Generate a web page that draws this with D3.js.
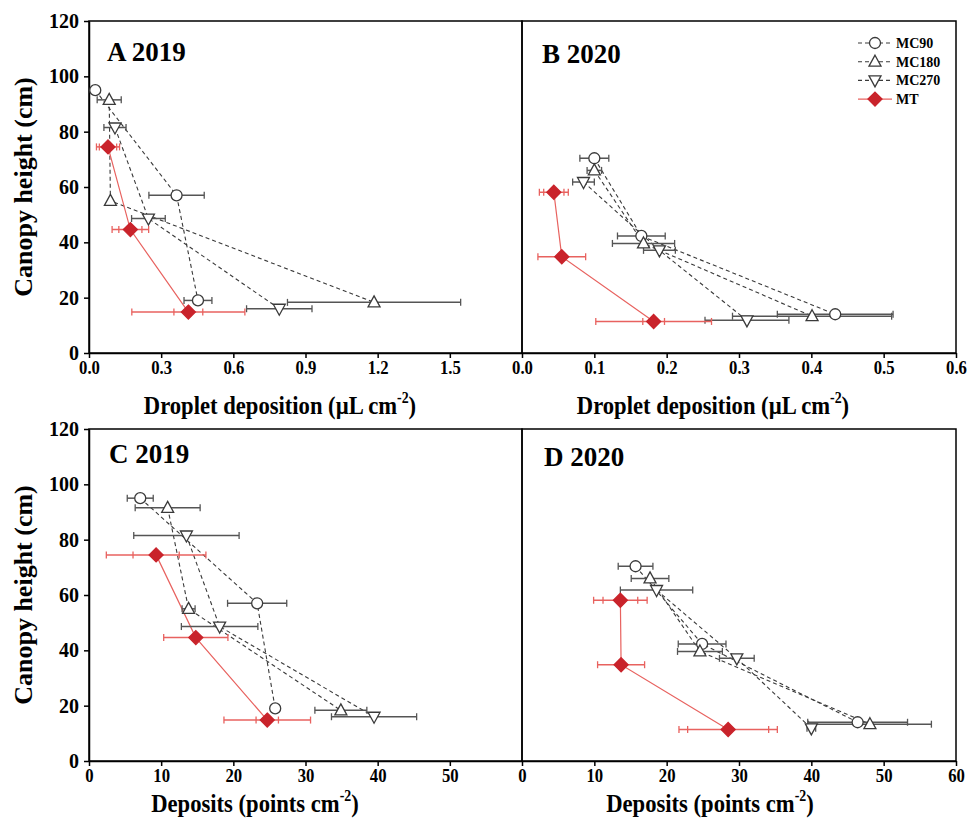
<!DOCTYPE html>
<html>
<head>
<meta charset="utf-8">
<style>
  body { margin: 0; background: #fff; }
  svg text { font-family: "Liberation Serif", "Times New Roman", serif !important; font-weight: bold; fill: #000; }
</style>
<script src="https://d3js.org/d3.v7.min.js"></script>
</head>
<body>
<script>
var seriesNames = ['MC90', 'MC180', 'MC270', 'MT'];

// canopy height (cm) of the three sampling layers, one row per series
var height2019 = [[95, 57, 19], [91.5, 55, 18.3], [81.5, 48.6, 16], [74.5, 44.6, 14.8]];
var height2020 = [[70.4, 42.3, 14], [66, 39.6, 13.3], [61.8, 37.1, 11.8], [58.1, 34.8, 11.4]];

// A: droplet deposition 2019 (uL cm-2)
var dropA    = [[0.026, 0.364, 0.453], [0.084, 0.089, 1.185], [0.108, 0.247, 0.791], [0.079, 0.172, 0.413]];
var dropAErr = [[0.008, 0.115, 0.058], [0.05, 0.005, 0.36], [0.046, 0.07, 0.136], [0.048, 0.076, 0.235]];
// B: droplet deposition 2020
var dropB    = [[0.1, 0.165, 0.433], [0.1, 0.168, 0.401], [0.085, 0.19, 0.311], [0.044, 0.055, 0.182]];
var dropBErr = [[0.02, 0.033, 0.08], [0.01, 0.043, 0.11], [0.015, 0.022, 0.058], [0.02, 0.033, 0.08]];
// C: deposits 2019 (points cm-2)
var depC    = [[7.1, 23.3, 25.8], [10.9, 13.8, 34.9], [13.5, 18.1, 39.5], [9.3, 14.8, 24.7]];
var depCErr = [[1.8, 4.1, 0.4], [4.5, 0.9, 3.6], [7.3, 5.3, 5.9], [6.9, 4.45, 6]];
// D: deposits 2020
var depD    = [[15.7, 24.9, 46.4], [17.7, 24.6, 48.1], [18.6, 29.7, 40], [13.6, 13.7, 28.5]];
var depDErr = [[2.4, 3.3, 6.9], [2.6, 3.1, 8.5], [5, 2.4, 0.6], [3.7, 3.25, 6.8]];
// inner error caps shown on the MT bars
var mtInnerA = [0.036, 0.048, 0.06];
var mtInnerB = [0.014, 0, 0.015];
var mtInnerC = [3.2, 0, 1.55];
var mtInnerD = [2.4, 0, 5.6];

var ticksA = [0, 0.3, 0.6, 0.9, 1.2, 1.5];
var ticksB = [0, 0.1, 0.2, 0.3, 0.4, 0.5, 0.6];
var ticksC = [0, 10, 20, 30, 40, 50];
var ticksD = [0, 10, 20, 30, 40, 50, 60];
var ticksY = [0, 20, 40, 60, 80, 100, 120];

var W = 971, H = 823;
var svg = d3.select('body').append('svg').attr('width', W).attr('height', H);

var panels = [
  {label: 'A 2019', x0: 89, x1: 522, y0: 21, y1: 353, lx: 107, ly: 61, max: 1.8, ticks: ticksA, fmt: d3.format('.1f'),
   vals: dropA, err: dropAErr, inner: mtInnerA, hts: height2019, left: true, title: 'Droplet deposition (µL cm', tx: 280, ty: 414},
  {label: 'B 2020', x0: 522, x1: 956, y0: 21, y1: 353, lx: 542, ly: 63, max: 0.6, ticks: ticksB, fmt: d3.format('.1f'),
   vals: dropB, err: dropBErr, inner: mtInnerB, hts: height2020, left: false, title: 'Droplet deposition (µL cm', tx: 713, ty: 414},
  {label: 'C 2019', x0: 89, x1: 522, y0: 429, y1: 761, lx: 109, ly: 463, max: 60, ticks: ticksC, fmt: d3.format('d'),
   vals: depC, err: depCErr, inner: mtInnerC, hts: height2019, left: true, title: 'Deposits (points cm', tx: 255, ty: 812},
  {label: 'D 2020', x0: 522, x1: 956, y0: 429, y1: 761, lx: 544, ly: 466, max: 60, ticks: ticksD, fmt: d3.format('d'),
   vals: depD, err: depDErr, inner: mtInnerD, hts: height2020, left: false, title: 'Deposits (points cm', tx: 710, ty: 812}
];

var greyCol = '#3a3a3a', barCol = '#555', redLine = '#e8625f', redFill = '#c9232b';
var serif = '"Liberation Serif", "Times New Roman", serif';

function symbolPath(s) {
  if (s === 0) return d3.symbol(d3.symbolCircle, 95)();
  if (s === 1 || s === 2) return 'M0,-6.5L6,4.5L-6,4.5Z';
  return 'M0,-7L7,0L0,7L-7,0Z';
}
function drawSymbol(g, s, x, y) {
  g.append('path')
    .attr('d', symbolPath(s))
    .attr('transform', 'translate(' + x + ',' + y + ')' + (s === 2 ? ' rotate(180)' : ''))
    .attr('fill', s === 3 ? redFill : '#fff')
    .attr('stroke', s === 3 ? redFill : greyCol)
    .attr('stroke-width', 1.3);
}

panels.forEach(function(p) {
  var x = d3.scaleLinear().domain([0, p.max]).range([p.x0, p.x1]);
  var y = d3.scaleLinear().domain([0, 120]).range([p.y1, p.y0]);
  var g = svg.append('g');

  g.append('rect')
    .attr('x', p.x0).attr('y', p.y0)
    .attr('width', p.x1 - p.x0).attr('height', p.y1 - p.y0)
    .attr('fill', 'none').attr('stroke', '#000').attr('stroke-width', 1.5);

  var xa = g.append('g')
    .attr('transform', 'translate(0,' + p.y1 + ')')
    .call(d3.axisBottom(x).tickValues(p.ticks).tickFormat(p.fmt).tickSize(5).tickSizeOuter(0));
  xa.attr('font-family', null);
  xa.select('.domain').attr('stroke-width', 1.5);
  xa.selectAll('.tick line').attr('stroke-width', 1.5);
  xa.selectAll('.tick text')
    .style('font-family', serif).style('font-weight', 'bold').style('font-size', '19px')
    .attr('y', 8).attr('dy', '0.71em')
    .attr('transform', 'scale(0.88,1)');

  if (p.left) {
    var ya = g.append('g')
      .attr('transform', 'translate(' + p.x0 + ',0)')
      .call(d3.axisLeft(y).tickValues(ticksY).tickSize(5).tickSizeOuter(0));
    ya.attr('font-family', null);
    ya.select('.domain').attr('stroke-width', 1.5);
    ya.selectAll('.tick line').attr('stroke-width', 1.5);
    ya.selectAll('.tick text')
      .style('font-family', serif).style('font-weight', 'bold').style('font-size', '20px')
      .attr('x', -10);

    g.append('text')
      .attr('transform', 'translate(23,' + (p.y0 + p.y1) / 2 + ') rotate(-90)')
      .attr('text-anchor', 'middle').attr('dy', '0.35em')
      .attr('font-size', 26)
      .text('Canopy height (cm)');
  }

  var t = g.append('text')
    .attr('transform', 'translate(' + p.tx + ',' + p.ty + ') scale(0.87,1)')
    .attr('text-anchor', 'middle').attr('font-size', 26);
  t.append('tspan').text(p.title);
  t.append('tspan').attr('font-size', 16).attr('dy', -11).text('-2');
  t.append('tspan').attr('dy', 11).text(')');

  g.append('text')
    .attr('x', p.lx).attr('y', p.ly)
    .attr('font-size', 27)
    .text(p.label);

  var line = d3.line()
    .x(function(d) { return x(d.v); })
    .y(function(d) { return y(d.h); });

  var pts = seriesNames.map(function(name, s) {
    return p.hts[s].map(function(h, i) {
      return {h: h, v: p.vals[s][i], e: p.err[s][i], ie: s === 3 ? p.inner[i] : 0};
    });
  });

  pts.forEach(function(d, s) {
    g.append('path')
      .attr('d', line(d))
      .attr('fill', 'none')
      .attr('stroke', s === 3 ? redLine : greyCol)
      .attr('stroke-width', s === 3 ? 1.2 : 1.1)
      .attr('stroke-dasharray', s === 3 ? null : '4,3');
  });

  pts.forEach(function(d, s) {
    var col = s === 3 ? redLine : barCol;
    d.forEach(function(pt) {
      var cy = y(pt.h), xl = x(pt.v - pt.e), xr = x(pt.v + pt.e);
      g.append('line').attr('x1', xl).attr('x2', xr).attr('y1', cy).attr('y2', cy)
        .attr('stroke', col).attr('stroke-width', 1.5);
      var caps = [xl, xr];
      if (pt.ie > 0) caps.push(x(pt.v - pt.ie), x(pt.v + pt.ie));
      caps.forEach(function(cx) {
        g.append('line').attr('x1', cx).attr('x2', cx).attr('y1', cy - 3.5).attr('y2', cy + 3.5)
          .attr('stroke', col).attr('stroke-width', 1.3);
      });
    });
  });

  pts.forEach(function(d, s) {
    d.forEach(function(pt) { drawSymbol(g, s, x(pt.v), y(pt.h)); });
  });
});

// legend inside panel B
var legend = svg.append('g');
seriesNames.forEach(function(name, s) {
  var ly = 43 + s * 18.7;
  legend.append('line')
    .attr('x1', 858).attr('x2', 892).attr('y1', ly).attr('y2', ly)
    .attr('stroke', s === 3 ? redLine : greyCol).attr('stroke-width', 1.1)
    .attr('stroke-dasharray', s === 3 ? null : '4,3');
  drawSymbol(legend, s, 875, ly);
  legend.append('text')
    .attr('x', 896).attr('y', ly).attr('dy', '0.35em')
    .attr('font-size', 14)
    .text(name);
});
</script>
</body>
</html>
